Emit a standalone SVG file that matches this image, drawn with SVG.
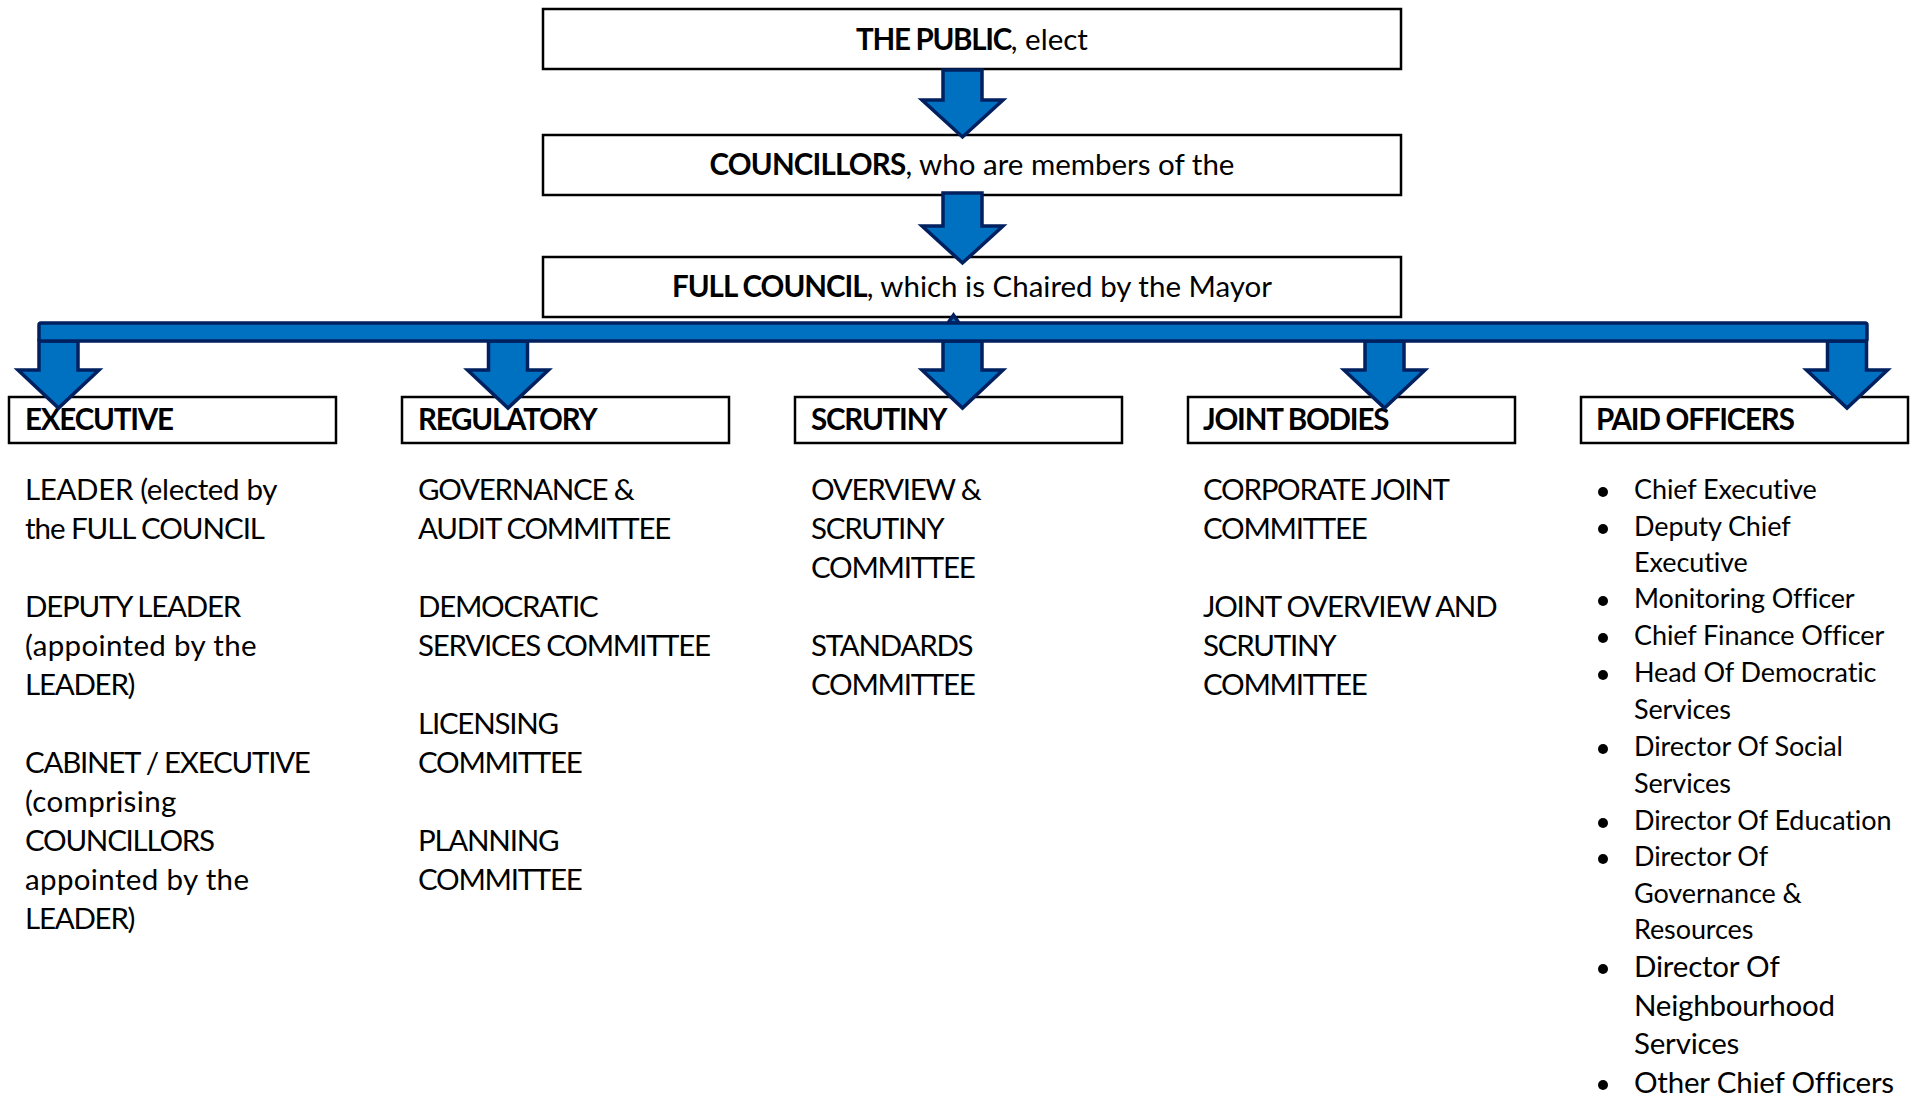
<svg xmlns="http://www.w3.org/2000/svg" width="1918" height="1099" viewBox="0 0 1918 1099">
<style>
  .bg { fill: #ffffff; }
  .box { fill: #ffffff; stroke: #000000; stroke-width: 2.5; }
  .t { font-family: Lato, "Open Sans", sans-serif; font-size: 29.5px; fill: #000000; }
  .b { font-weight: bold; }
  .h { font-weight: bold; letter-spacing: -1.2px; }
  .c { letter-spacing: -1.25px; }
  .m { letter-spacing: -0.35px; }
  .m2 { letter-spacing: -1.05px; }
  .lw { letter-spacing: 0.35px; }
  .mid { text-anchor: middle; }
  .li { font-family: Lato, "Open Sans", sans-serif; font-size: 27px; fill: #000000; letter-spacing: -0.1px; }
  .li2 { font-family: Lato, "Open Sans", sans-serif; font-size: 29.5px; fill: #000000; letter-spacing: -0.2px; }
  .dot { fill: #000000; }
  .arr { fill: #0070C0; stroke: #002060; stroke-width: 3.5; stroke-linejoin: miter; }
</style>
<rect class="bg" x="0" y="0" width="1918" height="1099"/>

<g id="public">
  <rect class="box" x="543" y="9" width="858" height="60"/>
  <text class="t mid" x="972" y="50"><tspan class="b" letter-spacing="-1.3">THE PUBLIC</tspan>, elect</text>
</g>
<g id="councillors">
  <rect class="box" x="543" y="135" width="858" height="60"/>
  <text class="t mid" x="972" y="175"><tspan class="b" letter-spacing="-0.8">COUNCILLORS</tspan>, who are members of the</text>
</g>
<g id="full-council">
  <rect class="box" x="543" y="257" width="858" height="60"/>
  <text class="t mid" x="972" y="297"><tspan class="b" letter-spacing="-1">FULL COUNCIL</tspan>, which is Chaired by the Mayor</text>
</g>

<g id="executive">
  <rect class="box" x="9" y="397" width="327" height="46"/>
  <text class="t h" x="25" y="430">EXECUTIVE</text>
  <text class="t m" x="25" y="500">LEADER (elected by</text>
  <text class="t m2" x="25" y="539">the FULL COUNCIL</text>
  <text class="t c" x="25" y="617">DEPUTY LEADER</text>
  <text class="t lw" x="25" y="656">(appointed by the</text>
  <text class="t c" x="25" y="695">LEADER)</text>
  <text class="t c" x="25" y="773">CABINET / EXECUTIVE</text>
  <text class="t lw" x="25" y="812">(comprising</text>
  <text class="t c" x="25" y="851">COUNCILLORS</text>
  <text class="t lw" x="25" y="890">appointed by the</text>
  <text class="t c" x="25" y="929">LEADER)</text>
</g>
<g id="regulatory">
  <rect class="box" x="402" y="397" width="327" height="46"/>
  <text class="t h" x="418" y="430">REGULATORY</text>
  <text class="t c" x="418" y="500">GOVERNANCE &amp;</text>
  <text class="t c" x="418" y="539">AUDIT COMMITTEE</text>
  <text class="t c" x="418" y="617">DEMOCRATIC</text>
  <text class="t c" x="418" y="656">SERVICES COMMITTEE</text>
  <text class="t c" x="418" y="734">LICENSING</text>
  <text class="t c" x="418" y="773">COMMITTEE</text>
  <text class="t c" x="418" y="851">PLANNING</text>
  <text class="t c" x="418" y="890">COMMITTEE</text>
</g>
<g id="scrutiny">
  <rect class="box" x="795" y="397" width="327" height="46"/>
  <text class="t h" x="811" y="430">SCRUTINY</text>
  <text class="t c" x="811" y="500">OVERVIEW &amp;</text>
  <text class="t c" x="811" y="539">SCRUTINY</text>
  <text class="t c" x="811" y="578">COMMITTEE</text>
  <text class="t c" x="811" y="656">STANDARDS</text>
  <text class="t c" x="811" y="695">COMMITTEE</text>
</g>
<g id="joint-bodies">
  <rect class="box" x="1188" y="397" width="327" height="46"/>
  <text class="t h" x="1203" y="430">JOINT BODIES</text>
  <text class="t c" x="1203" y="500">CORPORATE JOINT</text>
  <text class="t c" x="1203" y="539">COMMITTEE</text>
  <text class="t c" x="1203" y="617">JOINT OVERVIEW AND</text>
  <text class="t c" x="1203" y="656">SCRUTINY</text>
  <text class="t c" x="1203" y="695">COMMITTEE</text>
</g>
<g id="paid-officers">
  <rect class="box" x="1581" y="397" width="327" height="46"/>
  <text class="t h" x="1596" y="430">PAID OFFICERS</text>
  <circle class="dot" cx="1603" cy="492" r="5"/>
  <text class="li" x="1634" y="499">Chief Executive</text>
  <circle class="dot" cx="1603" cy="529" r="5"/>
  <text class="li" x="1634" y="536">Deputy Chief</text>
  <text class="li" x="1634" y="572">Executive</text>
  <circle class="dot" cx="1603" cy="601" r="5"/>
  <text class="li" x="1634" y="608">Monitoring Officer</text>
  <circle class="dot" cx="1603" cy="638" r="5"/>
  <text class="li" x="1634" y="645">Chief Finance Officer</text>
  <circle class="dot" cx="1603" cy="675" r="5"/>
  <text class="li" x="1634" y="682">Head Of Democratic</text>
  <text class="li" x="1634" y="719">Services</text>
  <circle class="dot" cx="1603" cy="749" r="5"/>
  <text class="li" x="1634" y="756">Director Of Social</text>
  <text class="li" x="1634" y="793">Services</text>
  <circle class="dot" cx="1603" cy="823" r="5"/>
  <text class="li" x="1634" y="830">Director Of Education</text>
  <circle class="dot" cx="1603" cy="859" r="5"/>
  <text class="li" x="1634" y="866">Director Of</text>
  <text class="li" x="1634" y="903">Governance &amp;</text>
  <text class="li" x="1634" y="939">Resources</text>
  <circle class="dot" cx="1603" cy="969" r="5"/>
  <text class="li2" x="1634" y="977">Director Of</text>
  <text class="li2" x="1634" y="1016">Neighbourhood</text>
  <text class="li2" x="1634" y="1054">Services</text>
  <circle class="dot" cx="1603" cy="1085" r="5"/>
  <text class="li2" x="1634" y="1093">Other Chief Officers</text>
</g>

<g id="connectors">
  <path class="arr" d="M943,70 L982,70 L982,100 L1003,100 L962.5,137 L922,100 L943,100 Z"/>
  <path class="arr" d="M943,193 L982,193 L982,226 L1003,226 L962.5,263 L922,226 L943,226 Z"/>
  <path class="arr" d="M39,341 L78,341 L78,370 L99,370 L58.5,408 L18,370 L39,370 Z"/>
  <path class="arr" d="M488.5,341 L527.5,341 L527.5,370 L548.5,370 L508,408 L467.5,370 L488.5,370 Z"/>
  <path class="arr" d="M943,341 L982,341 L982,370 L1003,370 L962.5,408 L922,370 L943,370 Z"/>
  <path class="arr" d="M1365,341 L1404,341 L1404,370 L1425,370 L1384.5,408 L1344,370 L1365,370 Z"/>
  <path class="arr" d="M1827.5,341 L1866.5,341 L1866.5,370 L1887.5,370 L1847,408 L1806.5,370 L1827.5,370 Z"/>
  <path class="arr" d="M948,323 L953.5,315 L959,323 Z"/>
  <rect class="arr" x="39" y="323" width="1828" height="18" rx="2"/>
</g>
</svg>
